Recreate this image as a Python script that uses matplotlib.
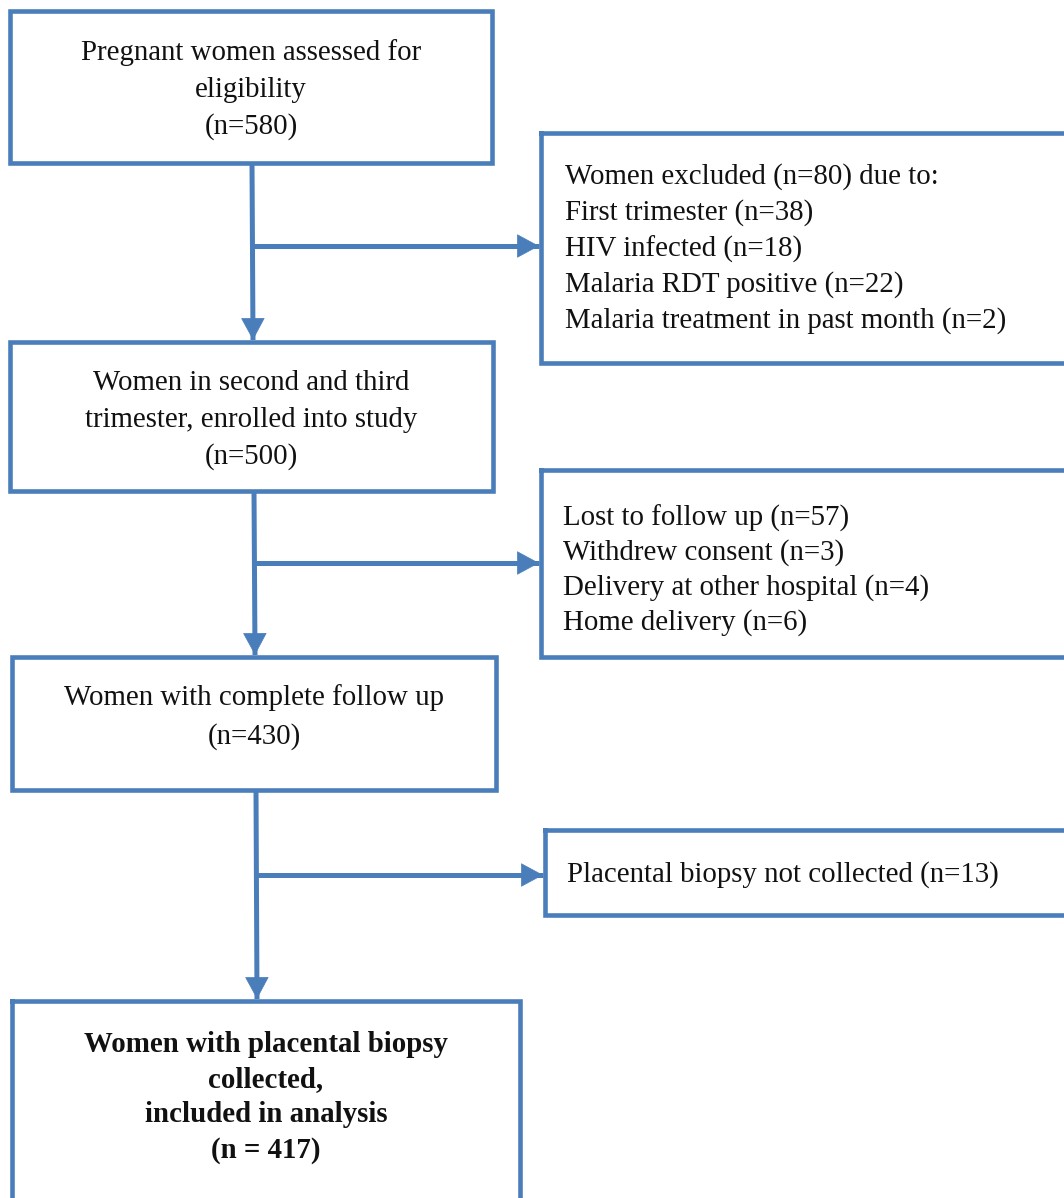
import matplotlib.pyplot as plt
from matplotlib.patches import Rectangle

# flow counts
assessed = 580
excl_reasons = ['First trimester', 'HIV infected', 'Malaria RDT positive',
                'Malaria treatment in past month']
excl_counts = [38, 18, 22, 2]
enrolled = 500
lost_reasons = ['Lost to follow up', 'Withdrew consent',
                'Delivery at other hospital', 'Home delivery']
lost_counts = [57, 3, 4, 6]
completed = 430
not_collected = 13
analysed = 417

blue = '#4a7ebb'
font = ['Liberation Serif', 'DejaVu Serif']
fs = 20.8

fig = plt.figure(figsize=(10.64, 11.98), dpi=100)
ax = fig.add_axes([0, 0, 1, 1])
ax.set_xlim(0, 1064)
ax.set_ylim(1198, 0)
ax.axis('off')


def box(x0, y0, x1, y1):
    ax.add_patch(Rectangle((x0, y0), x1 - x0, y1 - y0, fill=False,
                           edgecolor=blue, lw=3.3, joinstyle='miter',
                           capstyle='projecting'))


def arrow(x0, y0, x1, y1):
    # shaft, then a filled head ending on the target edge
    ax.plot([x0, x1], [y0, y1], color=blue, lw=3.6, solid_capstyle='butt')
    ax.annotate('', xy=(x1, y1), xytext=(x0, y0),
                arrowprops=dict(arrowstyle='-|>,head_length=0.5,head_width=0.27',
                                color=blue, lw=0.5, mutation_scale=30,
                                shrinkA=0, shrinkB=0))


def lines(x, y, txt, dy, ha='center', bold=False):
    for i, t in enumerate(txt):
        ax.text(x, y + i * dy, t, ha=ha, va='center', fontsize=fs,
                family=font, fontweight='bold' if bold else 'normal',
                color='#111111')


# main column boxes
box(10, 11, 492, 163)
lines(251, 53, ['Pregnant women assessed for', 'eligibility',
                '(n=%d)' % assessed], 37)

box(10, 342, 493, 491)
lines(251, 383, ['Women in second and third', 'trimester, enrolled into study',
                 '(n=%d)' % enrolled], 37)

box(12, 657, 496, 790)
lines(254, 698, ['Women with complete follow up', '(n=%d)' % completed], 39)

box(12, 1001, 520, 1230)
lines(266, 1044, ['Women with placental biopsy', 'collected,',
                  'included in analysis', '(n = %d)' % analysed], 35.5, bold=True)

# side boxes
box(541, 133, 1100, 363)
side1 = ['Women excluded (n=%d) due to:' % sum(excl_counts)]
side1 += ['%s (n=%d)' % (r, c) for r, c in zip(excl_reasons, excl_counts)]
lines(565, 177, side1, 36, ha='left')

box(541, 470, 1100, 657)
side2 = ['%s (n=%d)' % (r, c) for r, c in zip(lost_reasons, lost_counts)]
lines(563, 518, side2, 35, ha='left')

box(545, 830, 1100, 915)
lines(567, 875, ['Placental biopsy not collected (n=%d)' % not_collected], 0, ha='left')

# connectors
arrow(252, 163, 253, 340)
arrow(253, 246, 539, 246)
arrow(254, 491, 255, 655)
arrow(255, 563, 539, 563)
arrow(256, 790, 257, 999)
arrow(257, 875, 543, 875)

fig.savefig('out.png', dpi=100, facecolor='white')
